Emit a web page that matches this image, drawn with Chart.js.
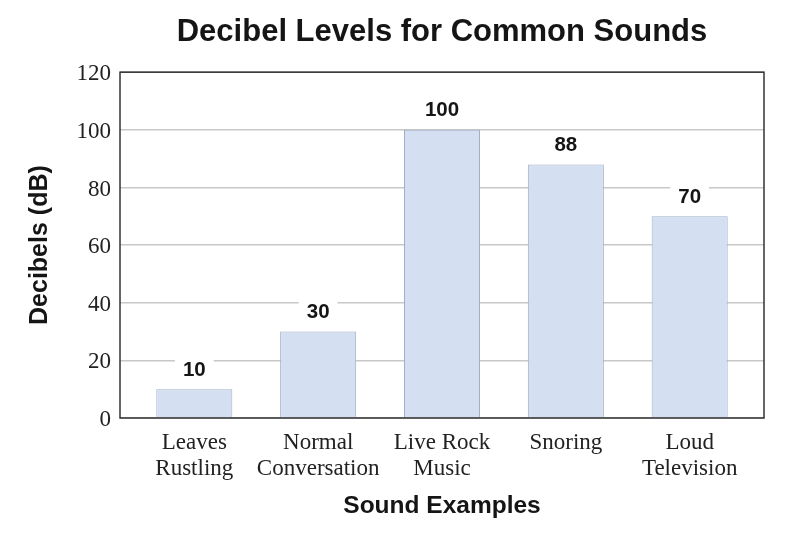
<!DOCTYPE html>
<html><head><meta charset="utf-8">
<script src="https://cdn.jsdelivr.net/npm/chart.js@4"></script>
<style>html,body{margin:0;padding:0;background:#fff}#wrap{width:809px;height:533px}</style>
</head><body><div id="wrap"><canvas id="c" width="809" height="533"></canvas></div>
<script>
const categories = [['Leaves','Rustling'],['Normal','Conversation'],['Live Rock','Music'],['Snoring'],['Loud','Television']];
const decibels = [10, 30, 100, 88, 70];
const yTicks = [0, 20, 40, 60, 80, 100, 120];

const points = decibels.map((v, i) => ({ x: i, y: v }));

const valueLabels = {
  id: 'valueLabels',
  afterDatasetsDraw(chart) {
    const ctx = chart.ctx;
    const meta = chart.getDatasetMeta(0);
    ctx.save();
    ctx.font = 'bold 20.5px "Liberation Sans", Arial, sans-serif';
    ctx.textAlign = 'center';
    ctx.textBaseline = 'middle';
    meta.data.forEach((bar, i) => {
      const txt = String(decibels[i]);
      const w = ctx.measureText(txt).width + 16;
      const cy = bar.y - 19;
      ctx.fillStyle = '#fff';
      ctx.fillRect(bar.x - w / 2, cy - 12, w, 24);
      ctx.fillStyle = '#151515';
      ctx.fillText(txt, bar.x, cy);
    });
    ctx.restore();
  }
};
const frame = {
  id: 'frame',
  afterDraw(chart) {
    const a = chart.chartArea, ctx = chart.ctx;
    ctx.save();
    ctx.strokeStyle = '#333';
    ctx.lineWidth = 1.5;
    ctx.strokeRect(a.left, a.top, a.right - a.left, a.bottom - a.top);
    ctx.restore();
  }
};

new Chart(document.getElementById('c'), {
  type: 'bar',
  data: {
    datasets: [{
      data: points,
      backgroundColor: '#d4e0f1',
      borderColor: '#a0afc6',
      borderWidth: 1,
      barPercentage: 0.614,
      categoryPercentage: 1
    }]
  },
  options: {
    responsive: false,
    animation: false,
    devicePixelRatio: 1,
    layout: { padding: { left: 0, right: 45, top: 0, bottom: 0 } },
    plugins: {
      legend: { display: false },
      tooltip: { enabled: false },
      title: {
        display: true,
        fullSize: false,
        text: 'Decibel Levels for Common Sounds',
        color: '#151515',
        font: { family: '"Liberation Sans", Arial, sans-serif', size: 31, weight: 'bold' },
        padding: { top: 14, bottom: 21 }
      }
    },
    scales: {
      x: {
        type: 'linear',
        min: -0.6,
        max: 4.6,
        offset: false,
        afterBuildTicks(s) { s.ticks = categories.map((c, i) => ({ value: i })); },
        grid: { display: false, drawTicks: false, offset: false },
        border: { display: false },
        ticks: {
          color: '#222',
          padding: 12,
          maxRotation: 0,
          autoSkip: false,
          callback: (v) => categories[v],
          font: { family: '"Liberation Serif", "Times New Roman", serif', size: 23, lineHeight: 1.13 }
        },
        title: {
          display: true,
          text: 'Sound Examples',
          color: '#151515',
          font: { family: '"Liberation Sans", Arial, sans-serif', size: 24.5, weight: 'bold' },
          padding: { top: 0, bottom: 12 }
        },
        afterFit(s) { s.height = 115; }
      },
      y: {
        min: 0,
        max: 120,
        afterBuildTicks(s) { s.ticks = yTicks.map(v => ({ value: v })); },
        grid: { color: '#c8c8c8', lineWidth: 1.5, drawTicks: false },
        border: { display: false },
        ticks: {
          color: '#222',
          padding: 9,
          labelOffset: 2,
          font: { family: '"Liberation Serif", "Times New Roman", serif', size: 23 }
        },
        title: {
          display: true,
          text: 'Decibels (dB)',
          color: '#151515',
          font: { family: '"Liberation Sans", Arial, sans-serif', size: 25, weight: 'bold' },
          padding: { top: 25, bottom: 0 }
        },
        afterFit(s) { s.width = 120; }
      }
    }
  },
  plugins: [valueLabels, frame]
});
</script></body></html>
